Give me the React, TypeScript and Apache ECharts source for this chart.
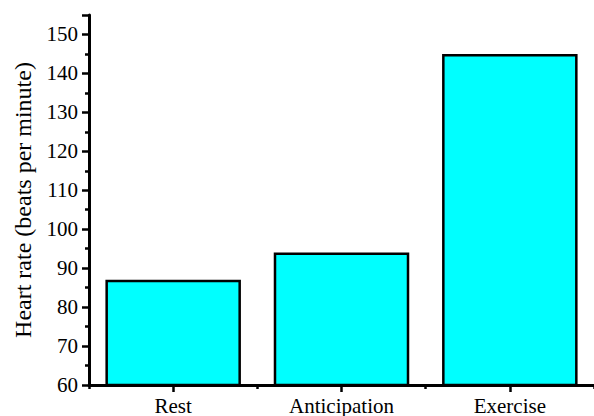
import React, { useEffect, useRef } from "react";
import * as echarts from "echarts";

const categories = ["Rest", "Anticipation", "Exercise"];
const heartRates = [87, 94, 145];
const yAxisTitle = "Heart rate (beats per minute)";
const yMin = 60;
const yMax = 155;
const yInterval = 10;

const FONT = "'Liberation Serif', 'Times New Roman', serif";

export default function App() {
  const ref = useRef<HTMLDivElement>(null);
  useEffect(() => {
    if (!ref.current) return;
    const chart = echarts.init(ref.current, null, { renderer: "svg" });
    const gridTop = 15;
    const gridBottom = 31;
    const gridHeight = 416 - gridTop - gridBottom;
    chart.setOption({
      animation: false,
      backgroundColor: "#ffffff",
      grid: { left: 89, right: -2, top: gridTop, bottom: gridBottom, containLabel: false },
      xAxis: [
        {
          type: "category",
          data: categories,
          position: "bottom",
          axisLine: { show: true, lineStyle: { color: "#000", width: 3 } },
          axisTick: { show: true, alignWithLabel: true, length: 7, lineStyle: { color: "#000", width: 2.5 } },
          axisLabel: { color: "#000", fontFamily: FONT, fontSize: 21, margin: 10 },
          splitLine: { show: false },
        },
        {
          type: "category",
          data: categories,
          position: "top",
          offset: -gridHeight,
          axisLine: { show: false },
          axisTick: { show: true, inside: true, length: 4, lineStyle: { color: "#000", width: 2.5 } },
          axisLabel: { show: false },
          splitLine: { show: false },
        },
      ],
      yAxis: {
        type: "value",
        min: yMin,
        max: yMax,
        interval: yInterval,
        name: yAxisTitle,
        nameLocation: "middle",
        nameGap: 54,
        nameTextStyle: { color: "#000", fontFamily: FONT, fontSize: 24 },
        axisLine: { show: true, lineStyle: { color: "#000", width: 3 } },
        axisTick: { show: true, length: 7, lineStyle: { color: "#000", width: 2.5 } },
        minorTick: { show: true, splitNumber: 2, length: 4, lineStyle: { color: "#000", width: 2.5 } },
        axisLabel: { color: "#000", fontFamily: FONT, fontSize: 21, margin: 11 },
        splitLine: { show: false },
        minorSplitLine: { show: false },
      },
      series: [
        {
          type: "bar",
          data: heartRates,
          xAxisIndex: 0,
          barCategoryGap: "19.5%",
          itemStyle: { color: "#00ffff", borderColor: "#000", borderWidth: 2.5 },
        },
      ],
    });
    return () => chart.dispose();
  }, []);
  return <div ref={ref} style={{ width: 594, height: 416, position: "absolute", left: 0, top: 0 }} />;
}
